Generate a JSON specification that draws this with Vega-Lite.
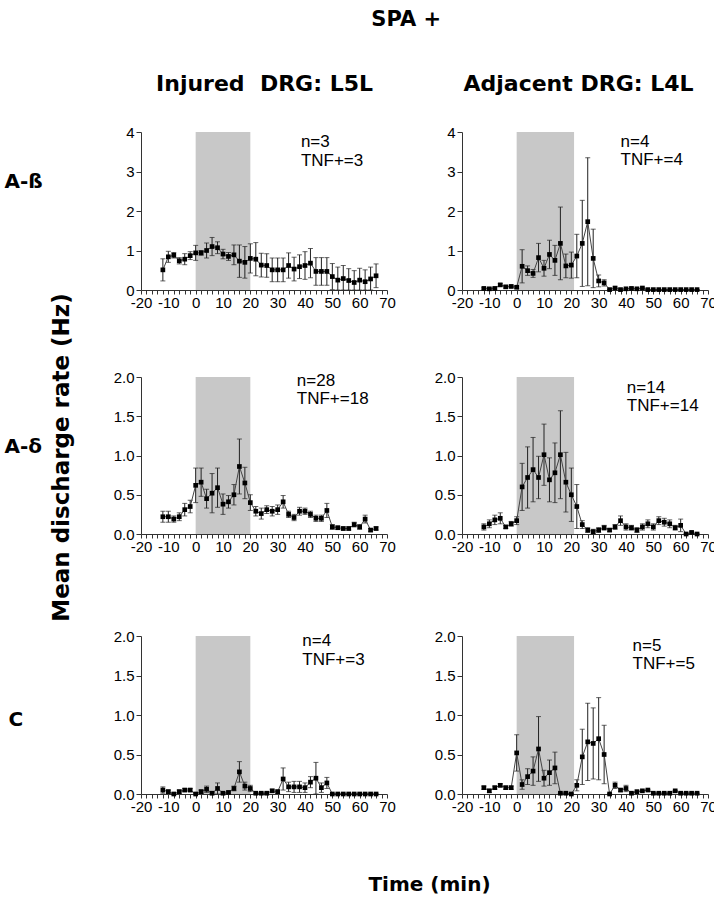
{
"$schema": "https://vega.github.io/schema/vega-lite/v6.json",
"padding": {"left": 4, "top": 9, "right": 0, "bottom": 0},
"config": {
  "view": {"stroke": null},
  "axis": {"grid": false, "domainColor": "#333", "tickColor": "#333", "labelColor": "#000", "labelFont": "Liberation Sans", "labelFontSize": 15, "titleFont": "DejaVu Sans", "titleFontWeight": "bold", "titleColor": "#000", "titleFontSize": 21},
  "title": {"font": "DejaVu Sans", "fontWeight": "bold", "fontSize": 21, "color": "#000"}
},
"title": {"text": "SPA +", "anchor": "middle", "offset": 42, "dx": 46},
"datasets": {
  "tl": [{"t":-12,"rate":0.51,"err":0.28},{"t":-10,"rate":0.84,"err":0.14},{"t":-8,"rate":0.88,"err":0.07},{"t":-6,"rate":0.74,"err":0.08},{"t":-4,"rate":0.78,"err":0.14},{"t":-2,"rate":0.87,"err":0.1},{"t":0,"rate":0.94,"err":0.19},{"t":2,"rate":0.94,"err":0.06},{"t":4,"rate":1.0,"err":0.19},{"t":6,"rate":1.1,"err":0.23},{"t":8,"rate":1.07,"err":0.15},{"t":10,"rate":0.91,"err":0.12},{"t":12,"rate":0.85,"err":0.1},{"t":14,"rate":0.89,"err":0.25},{"t":16,"rate":0.73,"err":0.41},{"t":18,"rate":0.7,"err":0.4},{"t":20,"rate":0.8,"err":0.37},{"t":22,"rate":0.78,"err":0.42},{"t":24,"rate":0.63,"err":0.3},{"t":26,"rate":0.62,"err":0.3},{"t":28,"rate":0.51,"err":0.3},{"t":30,"rate":0.51,"err":0.3},{"t":32,"rate":0.51,"err":0.3},{"t":34,"rate":0.62,"err":0.32},{"t":36,"rate":0.53,"err":0.3},{"t":38,"rate":0.59,"err":0.3},{"t":40,"rate":0.62,"err":0.35},{"t":42,"rate":0.68,"err":0.37},{"t":44,"rate":0.47,"err":0.35},{"t":46,"rate":0.47,"err":0.35},{"t":48,"rate":0.47,"err":0.35},{"t":50,"rate":0.34,"err":0.33},{"t":52,"rate":0.25,"err":0.33},{"t":54,"rate":0.29,"err":0.33},{"t":56,"rate":0.24,"err":0.3},{"t":58,"rate":0.19,"err":0.3},{"t":60,"rate":0.25,"err":0.3},{"t":62,"rate":0.21,"err":0.3},{"t":64,"rate":0.28,"err":0.3},{"t":66,"rate":0.36,"err":0.3}],
  "tr": [{"t":-12,"rate":0.04,"err":0.02},{"t":-10,"rate":0.03,"err":0.02},{"t":-8,"rate":0.04,"err":0.02},{"t":-6,"rate":0.13,"err":0.03},{"t":-4,"rate":0.08,"err":0.03},{"t":-2,"rate":0.09,"err":0.03},{"t":0,"rate":0.07,"err":0.03},{"t":2,"rate":0.6,"err":0.42},{"t":4,"rate":0.49,"err":0.12},{"t":6,"rate":0.42,"err":0.1},{"t":8,"rate":0.82,"err":0.36},{"t":10,"rate":0.55,"err":0.2},{"t":12,"rate":0.9,"err":0.36},{"t":14,"rate":0.75,"err":0.38},{"t":16,"rate":1.18,"err":0.92},{"t":18,"rate":0.61,"err":0.3},{"t":20,"rate":0.63,"err":0.33},{"t":22,"rate":0.86,"err":0.55},{"t":24,"rate":1.18,"err":1.09},{"t":26,"rate":1.73,"err":1.62},{"t":28,"rate":0.8,"err":0.74},{"t":30,"rate":0.23,"err":0.15},{"t":32,"rate":0.18,"err":0.08},{"t":34,"rate":0.01,"err":0.01},{"t":36,"rate":0.05,"err":0.02},{"t":38,"rate":0.01,"err":0.01},{"t":40,"rate":0.03,"err":0.01},{"t":42,"rate":0.04,"err":0.02},{"t":44,"rate":0.03,"err":0.01},{"t":46,"rate":0.05,"err":0.02},{"t":48,"rate":0.01,"err":0},{"t":50,"rate":0.01,"err":0},{"t":52,"rate":0.01,"err":0},{"t":54,"rate":0.01,"err":0},{"t":56,"rate":0.01,"err":0},{"t":58,"rate":0.01,"err":0},{"t":60,"rate":0.01,"err":0},{"t":62,"rate":0.01,"err":0},{"t":64,"rate":0.01,"err":0},{"t":66,"rate":0.01,"err":0}],
  "ml": [{"t":-12,"rate":0.22,"err":0.07},{"t":-10,"rate":0.22,"err":0.07},{"t":-8,"rate":0.19,"err":0.04},{"t":-6,"rate":0.22,"err":0.05},{"t":-4,"rate":0.31,"err":0.08},{"t":-2,"rate":0.35,"err":0.08},{"t":0,"rate":0.62,"err":0.22},{"t":2,"rate":0.66,"err":0.18},{"t":4,"rate":0.45,"err":0.12},{"t":6,"rate":0.52,"err":0.25},{"t":8,"rate":0.59,"err":0.25},{"t":10,"rate":0.38,"err":0.13},{"t":12,"rate":0.41,"err":0.08},{"t":14,"rate":0.5,"err":0.13},{"t":16,"rate":0.86,"err":0.35},{"t":18,"rate":0.65,"err":0.2},{"t":20,"rate":0.4,"err":0.1},{"t":22,"rate":0.29,"err":0.06},{"t":24,"rate":0.26,"err":0.07},{"t":26,"rate":0.31,"err":0.05},{"t":28,"rate":0.29,"err":0.06},{"t":30,"rate":0.31,"err":0.06},{"t":32,"rate":0.41,"err":0.08},{"t":34,"rate":0.25,"err":0.04},{"t":36,"rate":0.21,"err":0.04},{"t":38,"rate":0.29,"err":0.05},{"t":40,"rate":0.29,"err":0.04},{"t":42,"rate":0.25,"err":0.04},{"t":44,"rate":0.2,"err":0.04},{"t":46,"rate":0.2,"err":0.04},{"t":48,"rate":0.3,"err":0.09},{"t":50,"rate":0.09,"err":0.03},{"t":52,"rate":0.08,"err":0.02},{"t":54,"rate":0.07,"err":0.02},{"t":56,"rate":0.07,"err":0.02},{"t":58,"rate":0.12,"err":0.03},{"t":60,"rate":0.09,"err":0.03},{"t":62,"rate":0.19,"err":0.05},{"t":64,"rate":0.05,"err":0.02},{"t":66,"rate":0.07,"err":0.02}],
  "mr": [{"t":-12,"rate":0.09,"err":0.04},{"t":-10,"rate":0.13,"err":0.05},{"t":-8,"rate":0.18,"err":0.06},{"t":-6,"rate":0.2,"err":0.07},{"t":-4,"rate":0.09,"err":0.02},{"t":-2,"rate":0.13,"err":0.03},{"t":0,"rate":0.17,"err":0.05},{"t":2,"rate":0.6,"err":0.3},{"t":4,"rate":0.72,"err":0.39},{"t":6,"rate":0.82,"err":0.41},{"t":8,"rate":0.72,"err":0.27},{"t":10,"rate":1.01,"err":0.39},{"t":12,"rate":0.69,"err":0.28},{"t":14,"rate":0.78,"err":0.38},{"t":16,"rate":1.01,"err":0.56},{"t":18,"rate":0.66,"err":0.38},{"t":20,"rate":0.5,"err":0.34},{"t":22,"rate":0.35,"err":0.28},{"t":24,"rate":0.12,"err":0.05},{"t":26,"rate":0.05,"err":0.03},{"t":28,"rate":0.03,"err":0.03},{"t":30,"rate":0.05,"err":0.03},{"t":32,"rate":0.08,"err":0.03},{"t":34,"rate":0.05,"err":0.02},{"t":36,"rate":0.09,"err":0.03},{"t":38,"rate":0.17,"err":0.06},{"t":40,"rate":0.09,"err":0.04},{"t":42,"rate":0.08,"err":0.03},{"t":44,"rate":0.05,"err":0.03},{"t":46,"rate":0.09,"err":0.04},{"t":48,"rate":0.13,"err":0.05},{"t":50,"rate":0.09,"err":0.04},{"t":52,"rate":0.17,"err":0.05},{"t":54,"rate":0.15,"err":0.05},{"t":56,"rate":0.13,"err":0.05},{"t":58,"rate":0.08,"err":0.03},{"t":60,"rate":0.11,"err":0.08},{"t":62,"rate":0.0,"err":0},{"t":64,"rate":0.02,"err":0.01},{"t":66,"rate":0.0,"err":0}],
  "bl": [{"t":-12,"rate":0.05,"err":0.04},{"t":-10,"rate":0.03,"err":0.02},{"t":-8,"rate":0.0,"err":0},{"t":-6,"rate":0.03,"err":0.02},{"t":-4,"rate":0.05,"err":0.02},{"t":-2,"rate":0.05,"err":0.02},{"t":0,"rate":0.0,"err":0},{"t":2,"rate":0.03,"err":0.02},{"t":4,"rate":0.06,"err":0.04},{"t":6,"rate":0.01,"err":0.01},{"t":8,"rate":0.07,"err":0.07},{"t":10,"rate":0.01,"err":0},{"t":12,"rate":0.02,"err":0.01},{"t":14,"rate":0.07,"err":0.03},{"t":16,"rate":0.28,"err":0.13},{"t":18,"rate":0.1,"err":0.05},{"t":20,"rate":0.07,"err":0.04},{"t":22,"rate":0.01,"err":0},{"t":24,"rate":0.01,"err":0},{"t":26,"rate":0.01,"err":0},{"t":28,"rate":0.04,"err":0.02},{"t":30,"rate":0.03,"err":0.02},{"t":32,"rate":0.19,"err":0.14},{"t":34,"rate":0.09,"err":0.06},{"t":36,"rate":0.09,"err":0.07},{"t":38,"rate":0.09,"err":0.07},{"t":40,"rate":0.08,"err":0.06},{"t":42,"rate":0.15,"err":0.07},{"t":44,"rate":0.2,"err":0.2},{"t":46,"rate":0.08,"err":0.06},{"t":48,"rate":0.14,"err":0.07},{"t":50,"rate":0.0,"err":0},{"t":52,"rate":0.0,"err":0},{"t":54,"rate":0.0,"err":0},{"t":56,"rate":0.0,"err":0},{"t":58,"rate":0.0,"err":0},{"t":60,"rate":0.0,"err":0},{"t":62,"rate":0.0,"err":0},{"t":64,"rate":0.0,"err":0},{"t":66,"rate":0.0,"err":0}],
  "br": [{"t":-12,"rate":0.08,"err":0.02},{"t":-10,"rate":0.04,"err":0.02},{"t":-8,"rate":0.08,"err":0.02},{"t":-6,"rate":0.11,"err":0.02},{"t":-4,"rate":0.08,"err":0.02},{"t":-2,"rate":0.08,"err":0.02},{"t":0,"rate":0.52,"err":0.23},{"t":2,"rate":0.12,"err":0.06},{"t":4,"rate":0.22,"err":0.1},{"t":6,"rate":0.29,"err":0.18},{"t":8,"rate":0.57,"err":0.41},{"t":10,"rate":0.2,"err":0.1},{"t":12,"rate":0.27,"err":0.16},{"t":14,"rate":0.33,"err":0.2},{"t":16,"rate":0.01,"err":0},{"t":18,"rate":0.01,"err":0},{"t":20,"rate":0.0,"err":0},{"t":22,"rate":0.11,"err":0.07},{"t":24,"rate":0.47,"err":0.35},{"t":26,"rate":0.66,"err":0.49},{"t":28,"rate":0.64,"err":0.45},{"t":30,"rate":0.7,"err":0.52},{"t":32,"rate":0.5,"err":0.37},{"t":34,"rate":0.0,"err":0},{"t":36,"rate":0.11,"err":0.04},{"t":38,"rate":0.05,"err":0.02},{"t":40,"rate":0.07,"err":0.04},{"t":42,"rate":0.01,"err":0},{"t":44,"rate":0.03,"err":0},{"t":46,"rate":0.04,"err":0},{"t":48,"rate":0.05,"err":0},{"t":50,"rate":0.01,"err":0},{"t":52,"rate":0.01,"err":0},{"t":54,"rate":0.01,"err":0},{"t":56,"rate":0.01,"err":0},{"t":58,"rate":0.04,"err":0},{"t":60,"rate":0.01,"err":0},{"t":62,"rate":0.01,"err":0},{"t":64,"rate":0.01,"err":0},{"t":66,"rate":0.01,"err":0}],
  "notes": [{"panel": "tl", "lines": ["n=3", "TNF+=3"]}, {"panel": "tr", "lines": ["n=4", "TNF+=4"]}, {"panel": "ml", "lines": ["n=28", "TNF+=18"]}, {"panel": "mr", "lines": ["n=14", "TNF+=14"]}, {"panel": "bl", "lines": ["n=4", "TNF+=3"]}, {"panel": "br", "lines": ["n=5", "TNF+=5"]}]
},
"columns": 2,
"spacing": {"row": 87, "column": 75},
"bounds": "flush",
"concat": [
 {
  "width": 246, "height": 158,
  "layer": [
    {"data": {"values": [{"t": 0, "t_end": 20}]}, "mark": {"type": "rect", "color": "#c8c8c8"},
     "encoding": {
      "x": {"field": "t", "type": "quantitative", "scale": {"domain": [-20, 70], "nice": false},
        "axis": {"values": [-20,-18,-16,-14,-12,-10,-8,-6,-4,-2,0,2,4,6,8,10,12,14,16,18,20,22,24,26,28,30,32,34,36,38,40,42,44,46,48,50,52,54,56,58,60,62,64,66,68,70], "labelExpr": "datum.value % 10 === 0 ? replace(datum.label, '\u2212', '-') : ''", "labelOverlap": false, "labelFlush": false, "tickSize": 4, "labelPadding": 1, "title": "Injured\u00a0 DRG: L5L", "titleX": 123, "titleY": -207, "titleAlign": "center", "titleBaseline": "middle", "titleAngle": 0, "titleFontSize": 22}},
      "x2": {"field": "t_end"},
      "y": {"datum": 0, "type": "quantitative", "scale": {"domain": [0, 4], "nice": false, "clamp": true},
        "axis": {"values": [0,1,2,3,4], "format": "d", "tickSize": 5, "labelPadding": 2, "title": "A-ß", "titleX": -137, "titleY": 49, "titleAngle": 0, "titleAlign": "left", "titleBaseline": "middle", "titleFontSize": 20}},
      "y2": {"datum": 4}}},
    {"data": {"name": "tl"},
     "encoding": {
      "x": {"field": "t", "type": "quantitative", "scale": {"domain": [-20, 70], "nice": false},
        "axis": {"values": [-20,-18,-16,-14,-12,-10,-8,-6,-4,-2,0,2,4,6,8,10,12,14,16,18,20,22,24,26,28,30,32,34,36,38,40,42,44,46,48,50,52,54,56,58,60,62,64,66,68,70], "labelExpr": "datum.value % 10 === 0 ? replace(datum.label, '\u2212', '-') : ''", "labelOverlap": false, "labelFlush": false, "tickSize": 4, "labelPadding": 1, "title": "Injured\u00a0 DRG: L5L", "titleX": 123, "titleY": -207, "titleAlign": "center", "titleBaseline": "middle", "titleAngle": 0, "titleFontSize": 22}},
      "y": {"field": "rate", "type": "quantitative", "scale": {"domain": [0, 4], "nice": false, "clamp": true},
        "axis": {"values": [0,1,2,3,4], "format": "d", "tickSize": 5, "labelPadding": 2, "title": "A-ß", "titleX": -137, "titleY": 49, "titleAngle": 0, "titleAlign": "left", "titleBaseline": "middle", "titleFontSize": 20}}},
     "layer": [
      {"mark": {"type": "errorbar", "ticks": {"size": 5, "color": "#222"}, "rule": {"color": "#222", "strokeWidth": 1}}, "encoding": {"yError": {"field": "err"}}},
      {"mark": {"type": "line", "color": "#444", "strokeWidth": 1}},
      {"mark": {"type": "point", "shape": "square", "filled": true, "size": 22, "color": "#000", "opacity": 1}}
     ]},
    {"data": {"name": "notes"}, "transform": [{"filter": "datum.panel === 'tl'"}],
     "mark": {"type": "text", "align": "left", "baseline": "alphabetic", "font": "Liberation Sans", "fontSize": 17, "lineHeight": 18.3, "color": "#000"},
     "encoding": {
      "x": {"datum": 38.5, "type": "quantitative", "scale": {"domain": [-20, 70], "nice": false},
        "axis": {"values": [-20,-18,-16,-14,-12,-10,-8,-6,-4,-2,0,2,4,6,8,10,12,14,16,18,20,22,24,26,28,30,32,34,36,38,40,42,44,46,48,50,52,54,56,58,60,62,64,66,68,70], "labelExpr": "datum.value % 10 === 0 ? replace(datum.label, '\u2212', '-') : ''", "labelOverlap": false, "labelFlush": false, "tickSize": 4, "labelPadding": 1, "title": "Injured\u00a0 DRG: L5L", "titleX": 123, "titleY": -207, "titleAlign": "center", "titleBaseline": "middle", "titleAngle": 0, "titleFontSize": 22}},
      "y": {"datum": 3.61, "type": "quantitative", "scale": {"domain": [0, 4], "nice": false, "clamp": true},
        "axis": {"values": [0,1,2,3,4], "format": "d", "tickSize": 5, "labelPadding": 2, "title": "A-ß", "titleX": -137, "titleY": 49, "titleAngle": 0, "titleAlign": "left", "titleBaseline": "middle", "titleFontSize": 20}},
      "text": {"field": "lines", "type": "nominal"}}}
  ]
 },
 {
  "width": 246, "height": 158,
  "layer": [
    {"data": {"values": [{"t": 0, "t_end": 21}]}, "mark": {"type": "rect", "color": "#c8c8c8"},
     "encoding": {
      "x": {"field": "t", "type": "quantitative", "scale": {"domain": [-20, 70], "nice": false},
        "axis": {"values": [-20,-18,-16,-14,-12,-10,-8,-6,-4,-2,0,2,4,6,8,10,12,14,16,18,20,22,24,26,28,30,32,34,36,38,40,42,44,46,48,50,52,54,56,58,60,62,64,66,68,70], "labelExpr": "datum.value % 10 === 0 ? replace(datum.label, '\u2212', '-') : ''", "labelOverlap": false, "labelFlush": false, "tickSize": 4, "labelPadding": 1, "title": "Adjacent DRG: L4L", "titleX": 116, "titleY": -207, "titleAlign": "center", "titleBaseline": "middle", "titleAngle": 0, "titleFontSize": 22}},
      "x2": {"field": "t_end"},
      "y": {"datum": 0, "type": "quantitative", "scale": {"domain": [0, 4], "nice": false, "clamp": true},
        "axis": {"values": [0,1,2,3,4], "format": "d", "tickSize": 5, "labelPadding": 2, "title": null}},
      "y2": {"datum": 4}}},
    {"data": {"name": "tr"},
     "encoding": {
      "x": {"field": "t", "type": "quantitative", "scale": {"domain": [-20, 70], "nice": false},
        "axis": {"values": [-20,-18,-16,-14,-12,-10,-8,-6,-4,-2,0,2,4,6,8,10,12,14,16,18,20,22,24,26,28,30,32,34,36,38,40,42,44,46,48,50,52,54,56,58,60,62,64,66,68,70], "labelExpr": "datum.value % 10 === 0 ? replace(datum.label, '\u2212', '-') : ''", "labelOverlap": false, "labelFlush": false, "tickSize": 4, "labelPadding": 1, "title": "Adjacent DRG: L4L", "titleX": 116, "titleY": -207, "titleAlign": "center", "titleBaseline": "middle", "titleAngle": 0, "titleFontSize": 22}},
      "y": {"field": "rate", "type": "quantitative", "scale": {"domain": [0, 4], "nice": false, "clamp": true},
        "axis": {"values": [0,1,2,3,4], "format": "d", "tickSize": 5, "labelPadding": 2, "title": null}}},
     "layer": [
      {"mark": {"type": "errorbar", "ticks": {"size": 5, "color": "#222"}, "rule": {"color": "#222", "strokeWidth": 1}}, "encoding": {"yError": {"field": "err"}}},
      {"mark": {"type": "line", "color": "#444", "strokeWidth": 1}},
      {"mark": {"type": "point", "shape": "square", "filled": true, "size": 22, "color": "#000", "opacity": 1}}
     ]},
    {"data": {"name": "notes"}, "transform": [{"filter": "datum.panel === 'tr'"}],
     "mark": {"type": "text", "align": "left", "baseline": "alphabetic", "font": "Liberation Sans", "fontSize": 17, "lineHeight": 18.3, "color": "#000"},
     "encoding": {
      "x": {"datum": 38, "type": "quantitative", "scale": {"domain": [-20, 70], "nice": false},
        "axis": {"values": [-20,-18,-16,-14,-12,-10,-8,-6,-4,-2,0,2,4,6,8,10,12,14,16,18,20,22,24,26,28,30,32,34,36,38,40,42,44,46,48,50,52,54,56,58,60,62,64,66,68,70], "labelExpr": "datum.value % 10 === 0 ? replace(datum.label, '\u2212', '-') : ''", "labelOverlap": false, "labelFlush": false, "tickSize": 4, "labelPadding": 1, "title": "Adjacent DRG: L4L", "titleX": 116, "titleY": -207, "titleAlign": "center", "titleBaseline": "middle", "titleAngle": 0, "titleFontSize": 22}},
      "y": {"datum": 3.63, "type": "quantitative", "scale": {"domain": [0, 4], "nice": false, "clamp": true},
        "axis": {"values": [0,1,2,3,4], "format": "d", "tickSize": 5, "labelPadding": 2, "title": null}},
      "text": {"field": "lines", "type": "nominal"}}}
  ]
 },
 {
  "width": 246, "height": 172,
  "layer": [
    {"data": {"values": [{"t": 0, "t_end": 20}]}, "mark": {"type": "rect", "color": "#c8c8c8"},
     "encoding": {
      "x": {"field": "t", "type": "quantitative", "scale": {"domain": [-20, 70], "nice": false},
        "axis": {"offset": -15, "values": [-20,-18,-16,-14,-12,-10,-8,-6,-4,-2,0,2,4,6,8,10,12,14,16,18,20,22,24,26,28,30,32,34,36,38,40,42,44,46,48,50,52,54,56,58,60,62,64,66,68,70], "labelExpr": "datum.value % 10 === 0 ? replace(datum.label, '\u2212', '-') : ''", "labelOverlap": false, "labelFlush": false, "tickSize": 4, "labelPadding": 1, "title": "A-δ", "titleX": -137, "titleY": -88, "titleAlign": "left", "titleBaseline": "middle", "titleAngle": 0, "titleFontSize": 20}},
      "x2": {"field": "t_end"},
      "y": {"datum": 0, "type": "quantitative", "scale": {"domain": [0, 2], "nice": false, "clamp": true, "range": [157, 0]},
        "axis": {"values": [0,0.5,1,1.5,2], "format": ".1f", "tickSize": 5, "labelPadding": 2, "title": "Mean discharge rate (Hz)", "titleX": -80, "titleY": 80, "titleAngle": -90, "titleAlign": "center", "titleBaseline": "middle", "titleFontSize": 23}},
      "y2": {"datum": 2}}},
    {"data": {"name": "ml"},
     "encoding": {
      "x": {"field": "t", "type": "quantitative", "scale": {"domain": [-20, 70], "nice": false},
        "axis": {"offset": -15, "values": [-20,-18,-16,-14,-12,-10,-8,-6,-4,-2,0,2,4,6,8,10,12,14,16,18,20,22,24,26,28,30,32,34,36,38,40,42,44,46,48,50,52,54,56,58,60,62,64,66,68,70], "labelExpr": "datum.value % 10 === 0 ? replace(datum.label, '\u2212', '-') : ''", "labelOverlap": false, "labelFlush": false, "tickSize": 4, "labelPadding": 1, "title": "A-δ", "titleX": -137, "titleY": -88, "titleAlign": "left", "titleBaseline": "middle", "titleAngle": 0, "titleFontSize": 20}},
      "y": {"field": "rate", "type": "quantitative", "scale": {"domain": [0, 2], "nice": false, "clamp": true, "range": [157, 0]},
        "axis": {"values": [0,0.5,1,1.5,2], "format": ".1f", "tickSize": 5, "labelPadding": 2, "title": "Mean discharge rate (Hz)", "titleX": -80, "titleY": 80, "titleAngle": -90, "titleAlign": "center", "titleBaseline": "middle", "titleFontSize": 23}}},
     "layer": [
      {"mark": {"type": "errorbar", "ticks": {"size": 5, "color": "#222"}, "rule": {"color": "#222", "strokeWidth": 1}}, "encoding": {"yError": {"field": "err"}}},
      {"mark": {"type": "line", "color": "#444", "strokeWidth": 1}},
      {"mark": {"type": "point", "shape": "square", "filled": true, "size": 22, "color": "#000", "opacity": 1}}
     ]},
    {"data": {"name": "notes"}, "transform": [{"filter": "datum.panel === 'ml'"}],
     "mark": {"type": "text", "align": "left", "baseline": "alphabetic", "font": "Liberation Sans", "fontSize": 17, "lineHeight": 18.3, "color": "#000"},
     "encoding": {
      "x": {"datum": 37, "type": "quantitative", "scale": {"domain": [-20, 70], "nice": false},
        "axis": {"offset": -15, "values": [-20,-18,-16,-14,-12,-10,-8,-6,-4,-2,0,2,4,6,8,10,12,14,16,18,20,22,24,26,28,30,32,34,36,38,40,42,44,46,48,50,52,54,56,58,60,62,64,66,68,70], "labelExpr": "datum.value % 10 === 0 ? replace(datum.label, '\u2212', '-') : ''", "labelOverlap": false, "labelFlush": false, "tickSize": 4, "labelPadding": 1, "title": "A-δ", "titleX": -137, "titleY": -88, "titleAlign": "left", "titleBaseline": "middle", "titleAngle": 0, "titleFontSize": 20}},
      "y": {"datum": 1.89, "type": "quantitative", "scale": {"domain": [0, 2], "nice": false, "clamp": true, "range": [157, 0]},
        "axis": {"values": [0,0.5,1,1.5,2], "format": ".1f", "tickSize": 5, "labelPadding": 2, "title": "Mean discharge rate (Hz)", "titleX": -80, "titleY": 80, "titleAngle": -90, "titleAlign": "center", "titleBaseline": "middle", "titleFontSize": 23}},
      "text": {"field": "lines", "type": "nominal"}}}
  ]
 },
 {
  "width": 246, "height": 172,
  "layer": [
    {"data": {"values": [{"t": 0, "t_end": 21}]}, "mark": {"type": "rect", "color": "#c8c8c8"},
     "encoding": {
      "x": {"field": "t", "type": "quantitative", "scale": {"domain": [-20, 70], "nice": false},
        "axis": {"offset": -15, "values": [-20,-18,-16,-14,-12,-10,-8,-6,-4,-2,0,2,4,6,8,10,12,14,16,18,20,22,24,26,28,30,32,34,36,38,40,42,44,46,48,50,52,54,56,58,60,62,64,66,68,70], "labelExpr": "datum.value % 10 === 0 ? replace(datum.label, '\u2212', '-') : ''", "labelOverlap": false, "labelFlush": false, "tickSize": 4, "labelPadding": 1, "title": null}},
      "x2": {"field": "t_end"},
      "y": {"datum": 0, "type": "quantitative", "scale": {"domain": [0, 2], "nice": false, "clamp": true, "range": [157, 0]},
        "axis": {"values": [0,0.5,1,1.5,2], "format": ".1f", "tickSize": 5, "labelPadding": 2, "title": null}},
      "y2": {"datum": 2}}},
    {"data": {"name": "mr"},
     "encoding": {
      "x": {"field": "t", "type": "quantitative", "scale": {"domain": [-20, 70], "nice": false},
        "axis": {"offset": -15, "values": [-20,-18,-16,-14,-12,-10,-8,-6,-4,-2,0,2,4,6,8,10,12,14,16,18,20,22,24,26,28,30,32,34,36,38,40,42,44,46,48,50,52,54,56,58,60,62,64,66,68,70], "labelExpr": "datum.value % 10 === 0 ? replace(datum.label, '\u2212', '-') : ''", "labelOverlap": false, "labelFlush": false, "tickSize": 4, "labelPadding": 1, "title": null}},
      "y": {"field": "rate", "type": "quantitative", "scale": {"domain": [0, 2], "nice": false, "clamp": true, "range": [157, 0]},
        "axis": {"values": [0,0.5,1,1.5,2], "format": ".1f", "tickSize": 5, "labelPadding": 2, "title": null}}},
     "layer": [
      {"mark": {"type": "errorbar", "ticks": {"size": 5, "color": "#222"}, "rule": {"color": "#222", "strokeWidth": 1}}, "encoding": {"yError": {"field": "err"}}},
      {"mark": {"type": "line", "color": "#444", "strokeWidth": 1}},
      {"mark": {"type": "point", "shape": "square", "filled": true, "size": 22, "color": "#000", "opacity": 1}}
     ]},
    {"data": {"name": "notes"}, "transform": [{"filter": "datum.panel === 'mr'"}],
     "mark": {"type": "text", "align": "left", "baseline": "alphabetic", "font": "Liberation Sans", "fontSize": 17, "lineHeight": 18.3, "color": "#000"},
     "encoding": {
      "x": {"datum": 40.3, "type": "quantitative", "scale": {"domain": [-20, 70], "nice": false},
        "axis": {"offset": -15, "values": [-20,-18,-16,-14,-12,-10,-8,-6,-4,-2,0,2,4,6,8,10,12,14,16,18,20,22,24,26,28,30,32,34,36,38,40,42,44,46,48,50,52,54,56,58,60,62,64,66,68,70], "labelExpr": "datum.value % 10 === 0 ? replace(datum.label, '\u2212', '-') : ''", "labelOverlap": false, "labelFlush": false, "tickSize": 4, "labelPadding": 1, "title": null}},
      "y": {"datum": 1.8, "type": "quantitative", "scale": {"domain": [0, 2], "nice": false, "clamp": true, "range": [157, 0]},
        "axis": {"values": [0,0.5,1,1.5,2], "format": ".1f", "tickSize": 5, "labelPadding": 2, "title": null}},
      "text": {"field": "lines", "type": "nominal"}}}
  ]
 },
 {
  "width": 246, "height": 158,
  "layer": [
    {"data": {"values": [{"t": 0, "t_end": 20}]}, "mark": {"type": "rect", "color": "#c8c8c8"},
     "encoding": {
      "x": {"field": "t", "type": "quantitative", "scale": {"domain": [-20, 70], "nice": false},
        "axis": {"values": [-20,-18,-16,-14,-12,-10,-8,-6,-4,-2,0,2,4,6,8,10,12,14,16,18,20,22,24,26,28,30,32,34,36,38,40,42,44,46,48,50,52,54,56,58,60,62,64,66,68,70], "labelExpr": "datum.value % 10 === 0 ? replace(datum.label, '\u2212', '-') : ''", "labelOverlap": false, "labelFlush": false, "tickSize": 4, "labelPadding": 1, "title": "Time (min)", "titleX": 288, "titleY": 90, "titleAlign": "center", "titleBaseline": "middle", "titleAngle": 0, "titleFontSize": 20}},
      "x2": {"field": "t_end"},
      "y": {"datum": 0, "type": "quantitative", "scale": {"domain": [0, 2], "nice": false, "clamp": true},
        "axis": {"values": [0,0.5,1,1.5,2], "format": ".1f", "tickSize": 5, "labelPadding": 2, "title": "C", "titleX": -133, "titleY": 83, "titleAngle": 0, "titleAlign": "left", "titleBaseline": "middle", "titleFontSize": 20}},
      "y2": {"datum": 2}}},
    {"data": {"name": "bl"},
     "encoding": {
      "x": {"field": "t", "type": "quantitative", "scale": {"domain": [-20, 70], "nice": false},
        "axis": {"values": [-20,-18,-16,-14,-12,-10,-8,-6,-4,-2,0,2,4,6,8,10,12,14,16,18,20,22,24,26,28,30,32,34,36,38,40,42,44,46,48,50,52,54,56,58,60,62,64,66,68,70], "labelExpr": "datum.value % 10 === 0 ? replace(datum.label, '\u2212', '-') : ''", "labelOverlap": false, "labelFlush": false, "tickSize": 4, "labelPadding": 1, "title": "Time (min)", "titleX": 288, "titleY": 90, "titleAlign": "center", "titleBaseline": "middle", "titleAngle": 0, "titleFontSize": 20}},
      "y": {"field": "rate", "type": "quantitative", "scale": {"domain": [0, 2], "nice": false, "clamp": true},
        "axis": {"values": [0,0.5,1,1.5,2], "format": ".1f", "tickSize": 5, "labelPadding": 2, "title": "C", "titleX": -133, "titleY": 83, "titleAngle": 0, "titleAlign": "left", "titleBaseline": "middle", "titleFontSize": 20}}},
     "layer": [
      {"mark": {"type": "errorbar", "ticks": {"size": 5, "color": "#222"}, "rule": {"color": "#222", "strokeWidth": 1}}, "encoding": {"yError": {"field": "err"}}},
      {"mark": {"type": "line", "color": "#444", "strokeWidth": 1}},
      {"mark": {"type": "point", "shape": "square", "filled": true, "size": 22, "color": "#000", "opacity": 1}}
     ]},
    {"data": {"name": "notes"}, "transform": [{"filter": "datum.panel === 'bl'"}],
     "mark": {"type": "text", "align": "left", "baseline": "alphabetic", "font": "Liberation Sans", "fontSize": 17, "lineHeight": 18.3, "color": "#000"},
     "encoding": {
      "x": {"datum": 39, "type": "quantitative", "scale": {"domain": [-20, 70], "nice": false},
        "axis": {"values": [-20,-18,-16,-14,-12,-10,-8,-6,-4,-2,0,2,4,6,8,10,12,14,16,18,20,22,24,26,28,30,32,34,36,38,40,42,44,46,48,50,52,54,56,58,60,62,64,66,68,70], "labelExpr": "datum.value % 10 === 0 ? replace(datum.label, '\u2212', '-') : ''", "labelOverlap": false, "labelFlush": false, "tickSize": 4, "labelPadding": 1, "title": "Time (min)", "titleX": 288, "titleY": 90, "titleAlign": "center", "titleBaseline": "middle", "titleAngle": 0, "titleFontSize": 20}},
      "y": {"datum": 1.87, "type": "quantitative", "scale": {"domain": [0, 2], "nice": false, "clamp": true},
        "axis": {"values": [0,0.5,1,1.5,2], "format": ".1f", "tickSize": 5, "labelPadding": 2, "title": "C", "titleX": -133, "titleY": 83, "titleAngle": 0, "titleAlign": "left", "titleBaseline": "middle", "titleFontSize": 20}},
      "text": {"field": "lines", "type": "nominal"}}}
  ]
 },
 {
  "width": 246, "height": 158,
  "layer": [
    {"data": {"values": [{"t": 0, "t_end": 21}]}, "mark": {"type": "rect", "color": "#c8c8c8"},
     "encoding": {
      "x": {"field": "t", "type": "quantitative", "scale": {"domain": [-20, 70], "nice": false},
        "axis": {"values": [-20,-18,-16,-14,-12,-10,-8,-6,-4,-2,0,2,4,6,8,10,12,14,16,18,20,22,24,26,28,30,32,34,36,38,40,42,44,46,48,50,52,54,56,58,60,62,64,66,68,70], "labelExpr": "datum.value % 10 === 0 ? replace(datum.label, '\u2212', '-') : ''", "labelOverlap": false, "labelFlush": false, "tickSize": 4, "labelPadding": 1, "title": null}},
      "x2": {"field": "t_end"},
      "y": {"datum": 0, "type": "quantitative", "scale": {"domain": [0, 2], "nice": false, "clamp": true},
        "axis": {"values": [0,0.5,1,1.5,2], "format": ".1f", "tickSize": 5, "labelPadding": 2, "title": null}},
      "y2": {"datum": 2}}},
    {"data": {"name": "br"},
     "encoding": {
      "x": {"field": "t", "type": "quantitative", "scale": {"domain": [-20, 70], "nice": false},
        "axis": {"values": [-20,-18,-16,-14,-12,-10,-8,-6,-4,-2,0,2,4,6,8,10,12,14,16,18,20,22,24,26,28,30,32,34,36,38,40,42,44,46,48,50,52,54,56,58,60,62,64,66,68,70], "labelExpr": "datum.value % 10 === 0 ? replace(datum.label, '\u2212', '-') : ''", "labelOverlap": false, "labelFlush": false, "tickSize": 4, "labelPadding": 1, "title": null}},
      "y": {"field": "rate", "type": "quantitative", "scale": {"domain": [0, 2], "nice": false, "clamp": true},
        "axis": {"values": [0,0.5,1,1.5,2], "format": ".1f", "tickSize": 5, "labelPadding": 2, "title": null}}},
     "layer": [
      {"mark": {"type": "errorbar", "ticks": {"size": 5, "color": "#222"}, "rule": {"color": "#222", "strokeWidth": 1}}, "encoding": {"yError": {"field": "err"}}},
      {"mark": {"type": "line", "color": "#444", "strokeWidth": 1}},
      {"mark": {"type": "point", "shape": "square", "filled": true, "size": 22, "color": "#000", "opacity": 1}}
     ]},
    {"data": {"name": "notes"}, "transform": [{"filter": "datum.panel === 'br'"}],
     "mark": {"type": "text", "align": "left", "baseline": "alphabetic", "font": "Liberation Sans", "fontSize": 17, "lineHeight": 18.3, "color": "#000"},
     "encoding": {
      "x": {"datum": 42.4, "type": "quantitative", "scale": {"domain": [-20, 70], "nice": false},
        "axis": {"values": [-20,-18,-16,-14,-12,-10,-8,-6,-4,-2,0,2,4,6,8,10,12,14,16,18,20,22,24,26,28,30,32,34,36,38,40,42,44,46,48,50,52,54,56,58,60,62,64,66,68,70], "labelExpr": "datum.value % 10 === 0 ? replace(datum.label, '\u2212', '-') : ''", "labelOverlap": false, "labelFlush": false, "tickSize": 4, "labelPadding": 1, "title": null}},
      "y": {"datum": 1.81, "type": "quantitative", "scale": {"domain": [0, 2], "nice": false, "clamp": true},
        "axis": {"values": [0,0.5,1,1.5,2], "format": ".1f", "tickSize": 5, "labelPadding": 2, "title": null}},
      "text": {"field": "lines", "type": "nominal"}}}
  ]
 }
]
}
